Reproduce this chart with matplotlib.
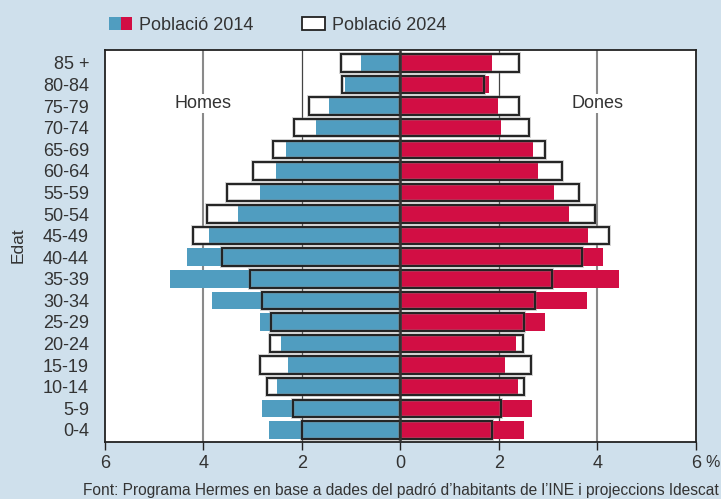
import matplotlib
matplotlib.use("Agg")
import matplotlib.pyplot as plt
from matplotlib.patches import Patch
from matplotlib.legend_handler import HandlerTuple
from matplotlib.transforms import ScaledTranslation
import numpy as np

plt.rcParams['font.family'] = ['Liberation Sans', 'DejaVu Sans']

ages = ["0-4", "5-9", "10-14", "15-19", "20-24", "25-29", "30-34", "35-39", "40-44",
        "45-49", "50-54", "55-59", "60-64", "65-69", "70-74", "75-79", "80-84", "85 +"]
men_2014 = [2.66, 2.82, 2.50, 2.29, 2.43, 2.86, 3.82, 4.67, 4.33,
            3.88, 3.29, 2.86, 2.52, 2.33, 1.72, 1.46, 1.13, 0.81]
men_2024 = [1.99, 2.19, 2.71, 2.85, 2.64, 2.62, 2.81, 3.05, 3.63,
            4.22, 3.93, 3.53, 2.99, 2.58, 2.17, 1.865, 1.19, 1.20]
women_2014 = [2.51, 2.67, 2.39, 2.12, 2.34, 2.93, 3.79, 4.44, 4.11,
              3.81, 3.42, 3.12, 2.79, 2.69, 2.05, 1.98, 1.79, 1.857]
women_2024 = [1.86, 2.05, 2.51, 2.64, 2.49, 2.51, 2.73, 3.08, 3.68,
              4.23, 3.94, 3.63, 3.27, 2.93, 2.60, 2.41, 1.69, 2.41]
xticks = [-6, -4, -2, 0, 2, 4, 6]
xticklabels = ["6", "4", "2", "0", "2", "4", "6"]

BG = "#cfe0ec"
BLUE = "#509dc0"
RED = "#d20e44"
EDGE = "#222222"
TXT = "#333333"

fig = plt.figure(figsize=(7.21, 4.99), dpi=100, facecolor=BG)
ax = fig.add_axes([0.1456, 0.1142, 0.8197, 0.7856])
ax.set_facecolor("white")

y = np.arange(len(ages))
h = 0.81
m14 = -np.array(men_2014)
m24 = -np.array(men_2024)
w14 = np.array(women_2014)
w24 = np.array(women_2024)

# 2024 white fill underneath
ax.barh(y, m24, height=h, color="white", edgecolor="none", zorder=1)
ax.barh(y, w24, height=h, color="white", edgecolor="none", zorder=1)
# 2014 coloured
ax.barh(y, m14, height=h, color=BLUE, edgecolor="none", zorder=2)
ax.barh(y, w14, height=h, color=RED, edgecolor="none", zorder=2)
# soft shadow then 2024 outlines on top
for vals in (m24, w24):
    ax.barh(y, vals, height=h, facecolor="none", edgecolor="#777777", linewidth=2.8,
            alpha=0.35, zorder=2.9)
    ax.barh(y, vals, height=h, facecolor="none", edgecolor=EDGE, linewidth=1.4, zorder=3)

for gx in (-2, 2):
    ax.axvline(gx, color="#444444", lw=0.9, zorder=0.5)
for gx in (-4, 4):
    ax.axvline(gx, color="#8a8a8a", lw=1.5, zorder=0.5)
ax.axvline(0, color="#333333", lw=1.8, zorder=4)

ax.set_xlim(-6, 6)
ax.set_ylim(-0.56, 17.6)
ax.set_yticks(y)
ax.set_yticklabels(ages, fontsize=13, color=TXT)
ax.set_xticks(xticks)
ax.set_xticklabels(xticklabels, fontsize=13, color=TXT)
ax.tick_params(axis="y", length=0, pad=11.5)
ax.tick_params(axis="x", length=5.8, width=1, color=EDGE, pad=3.5, direction="out")
for s in ax.spines.values():
    s.set_color(EDGE)
    s.set_linewidth(1.3)

pct_tr = ax.get_xaxis_transform() + ScaledTranslation(0, -(5.8 + 3.5) / 72, fig.dpi_scale_trans)
ax.text(6.2, 0, "%", transform=pct_tr, fontsize=11.5, color=TXT, ha="left", va="top",
        clip_on=False)

ax.text(-4, 15.12, "Homes", fontsize=13, color=TXT, ha="center", va="center",
        bbox=dict(facecolor="white", edgecolor="none", pad=1), zorder=5)
ax.text(4, 15.12, "Dones", fontsize=13, color=TXT, ha="center", va="center",
        bbox=dict(facecolor="white", edgecolor="none", pad=1), zorder=5)

fig.text(18 / 721, 1 - 245 / 499, "Edat", rotation=90, fontsize=12.5, color=TXT,
         ha="center", va="center")

fig.text(719 / 721, 1 - 491 / 499,
         "Font: Programa Hermes en base a dades del padró d\u2019habitants de l\u2019INE i projeccions Idescat",
         fontsize=11.2, color=TXT, ha="right", va="center")

h14 = (Patch(facecolor=BLUE, edgecolor="none"), Patch(facecolor=RED, edgecolor="none"))
h24 = Patch(facecolor="white", edgecolor=EDGE, linewidth=1.3)
leg = fig.legend([h14, h24], ["Població 2014", "Població 2024"],
                 handler_map={tuple: HandlerTuple(ndivide=None, pad=0)},
                 loc="upper left", bbox_to_anchor=(109 / 721, 1 - 17 / 499),
                 ncol=2, frameon=False, fontsize=13, borderpad=0, borderaxespad=0,
                 handlelength=1.3, handleheight=0.7, handletextpad=0.35,
                 columnspacing=2.7)
for t in leg.get_texts():
    t.set_color(TXT)

fig.savefig("out.png", dpi=100, facecolor=BG)
